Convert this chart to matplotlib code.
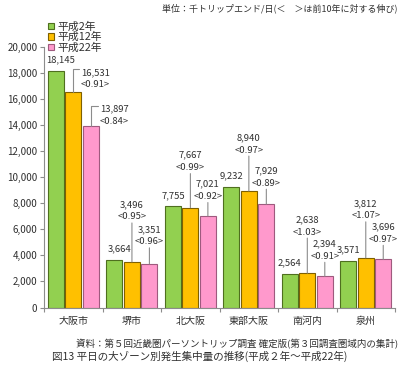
import matplotlib
matplotlib.use("Agg")
import matplotlib.pyplot as plt
from matplotlib.patches import Patch
import numpy as np

plt.rcParams['font.family'] = ['Noto Sans CJK JP', 'DejaVu Sans']

categories = ["大阪市", "堺市", "北大阪", "東部大阪", "南河内", "泉州"]
series_names = ["平成2年", "平成12年", "平成22年"]
h2 = [18145, 3664, 7755, 9232, 2564, 3571]
h12 = [16531, 3496, 7667, 8940, 2638, 3812]
h22 = [13897, 3351, 7021, 7929, 2394, 3696]
ratio12 = ["<0.91>", "<0.95>", "<0.99>", "<0.97>", "<1.03>", "<1.07>"]
ratio22 = ["<0.84>", "<0.96>", "<0.92>", "<0.89>", "<0.91>", "<0.97>"]
yticks = list(range(0, 20001, 2000))

colors = ["#92D050", "#FFC000", "#FF99CC"]
edges = ["#4F6F1F", "#7F6000", "#9E5A7E"]

W, H = 400, 365
fig = plt.figure(figsize=(W / 100, H / 100), dpi=100)
ax = fig.add_axes([44.25 / W, 57.5 / H, 350.75 / W, 260.5 / H])

x = np.arange(len(categories))
bw = 0.2735
off = 0.299
series = [h2, h12, h22]
for j, vals in enumerate(series):
    ax.bar(x + (j - 1) * off, vals, width=bw, color=colors[j], edgecolor=edges[j],
           linewidth=0.8, label=series_names[j], zorder=2)

ax.set_xlim(-0.5, len(categories) - 0.5)
ax.set_ylim(0, 20000)

txtc = "#303030"
lc = "#8C8C8C"
fs_lab = 6.8

# green labels
g_dx = [5, 5, 0, 0, 0, 0]
for i, v in enumerate(h2):
    ax.annotate(f"{v:,}", xy=(x[i] - off, v), xytext=(g_dx[i], 11), textcoords="offset pixels",
                ha="center", va="center", fontsize=fs_lab, color=txtc)

# yellow & pink labels with leader lines
y_gap = [None, 45, 40, 41, 41, 42]
p_gap = [None, 22, 19.5, 21, 20, 20]
def two_line(xc, v, gap, t1, t2):
    ax.annotate("", xy=(xc, v), xytext=(0, gap - 6), textcoords="offset pixels",
                arrowprops=dict(arrowstyle="-", color=lc, lw=0.8, shrinkA=0, shrinkB=0))
    ax.annotate(t2, xy=(xc, v), xytext=(0, gap), textcoords="offset pixels",
                ha="center", va="center", fontsize=fs_lab, color=txtc)
    ax.annotate(t1, xy=(xc, v), xytext=(0, gap + 12.5), textcoords="offset pixels",
                ha="center", va="center", fontsize=fs_lab, color=txtc)

for i in range(1, len(categories)):
    two_line(x[i], h12[i], y_gap[i], f"{h12[i]:,}", ratio12[i])
    two_line(x[i] + off, h22[i], p_gap[i], f"{h22[i]:,}", ratio22[i])

# 大阪市: elbow leaders
def elbow(xc, v, up, right, tdx, t1, t2):
    ax.annotate("", xy=(xc, v), xytext=(right, up), textcoords="offset pixels",
                arrowprops=dict(arrowstyle="-", color=lc, lw=0.8, shrinkA=0, shrinkB=0,
                                connectionstyle="angle,angleA=0,angleB=90,rad=0"))
    ax.annotate(t1, xy=(xc, v), xytext=(tdx, up - 3), textcoords="offset pixels",
                ha="center", va="center", fontsize=fs_lab, color=txtc)
    ax.annotate(t2, xy=(xc, v), xytext=(tdx, up - 15.5), textcoords="offset pixels",
                ha="center", va="center", fontsize=fs_lab, color=txtc)

elbow(x[0], h12[0], 22.7, 6, 22, f"{h12[0]:,}", ratio12[0])
elbow(x[0] + off, h22[0], 20.3, 7, 23.5, f"{h22[0]:,}", ratio22[0])

# axes styling
for s in ["top", "right"]:
    ax.spines[s].set_visible(False)
for s in ["left", "bottom"]:
    ax.spines[s].set_color("#8C8C8C")
    ax.spines[s].set_linewidth(0.8)

ax.set_yticks(yticks)
ax.set_yticklabels([f"{t:,}" for t in yticks])
ax.tick_params(axis="y", direction="out", length=2.9, width=0.8, color="#8C8C8C",
               labelsize=7, labelcolor=txtc, pad=2)
ax.set_xticks(np.arange(-0.5, len(categories), 1.0))
ax.set_xticklabels([])
ax.set_xticks(x, minor=True)
ax.set_xticklabels(categories, minor=True)
ax.tick_params(axis="x", which="major", direction="out", length=2.9, width=0.8, color="#8C8C8C")
ax.tick_params(axis="x", which="minor", length=0, labelsize=7.2, labelcolor=txtc, pad=6)

handles = [Patch(facecolor=colors[j], edgecolor=edges[j], linewidth=0.8, label=series_names[j])
           for j in range(3)]
fig.legend(handles=handles, loc="upper left", bbox_to_anchor=(48 / W, 1 - 21.5 / H),
           frameon=False, fontsize=7.8, handlelength=0.55, handleheight=0.55,
           handletextpad=0.35, labelspacing=0.02, borderpad=0, borderaxespad=0,
           labelcolor=txtc)

fig.text(398 / W, 1 - 8 / H, "単位：千トリップエンド/日(＜　＞は前10年に対する伸び)",
         ha="right", va="center", fontsize=6.45, color=txtc)
fig.text(398 / W, 1 - 344.5 / H, "資料：第５回近畿圏パーソントリップ調査 確定版(第３回調査圏域内の集計)",
         ha="right", va="center", fontsize=6.85, color=txtc)
fig.text(52 / W, 1 - 356.5 / H, "図13 平日の大ゾーン別発生集中量の推移(平成２年～平成22年)",
         ha="left", va="center", fontsize=7.6, color=txtc)

fig.savefig("out.png", dpi=100)
